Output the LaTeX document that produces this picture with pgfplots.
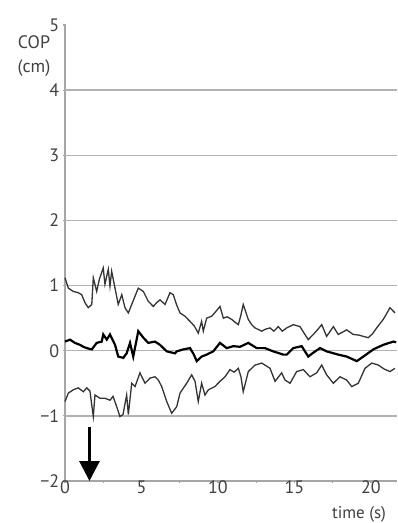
\documentclass[border=0pt]{standalone}
\usepackage{pgfplots}
\pgfplotsset{compat=1.18}
\usepackage{fontspec}
\setmainfont{PT Sans}
\usetikzlibrary{arrows.meta}
\begin{document}
\begin{tikzpicture}
\fontsize{18}{20}\selectfont
\begin{axis}[
  at={(0pt,0pt)}, anchor=south west,
  scale only axis, width=332pt, height=456pt,
  xmin=0, xmax=21.7, ymin=-2, ymax=5,
  axis x line=bottom, axis y line=left,
  axis line style={-, gray!70, line width=1.2pt},
  xtick={0,5,10,15,20}, minor xtick={2.5,7.5,12.5,17.5},
  ytick={-2,-1,0,1,2,3,4,5},
  yticklabels={−2,−1,0,1,2,3,4,5},
  xticklabels={0,5,10,15,20},
  tick align=center, major tick length=3pt, minor tick length=3pt,
  tick style={gray!70, line width=1.2pt},
  tick label style={font=\fontsize{18}{20}\selectfont, text=black!75},
  yticklabel style={xshift=2pt},
  xticklabel style={yshift=3pt, inner sep=1pt},
  extra y ticks={-1,0,1,2,3,4},
  extra y tick labels={},
  extra y tick style={grid=major, major tick length=0pt},
  major grid style={gray!60, line width=1.5pt},
  clip=false,
]
% upper trace
\addplot[black!80, line width=1.3pt] coordinates {
(0.00,1.12)(0.22,0.96)(0.54,0.91)(0.87,0.89)(1.09,0.86)(1.30,0.74)(1.52,0.66)(1.75,0.71)(1.85,1.12)(2.07,0.91)(2.25,1.10)(2.50,1.27)(2.61,1.02)(2.83,1.25)(2.94,0.99)(3.05,1.22)(3.27,0.96)(3.48,0.71)(3.71,0.86)(3.92,0.66)(4.14,0.58)(4.36,0.71)(4.55,0.82)(4.79,0.96)(5.12,0.91)(5.44,0.76)(5.77,0.68)(6.00,0.74)(6.21,0.78)(6.54,0.71)(6.86,0.89)(7.08,0.86)(7.30,0.70)(7.52,0.58)(7.84,0.53)(8.17,0.45)(8.45,0.38)(8.71,0.27)(8.93,0.45)(9.04,0.30)(9.26,0.50)(9.59,0.53)(9.85,0.60)(10.13,0.68)(10.35,0.50)(10.60,0.52)(10.90,0.48)(11.10,0.44)(11.33,0.40)(11.50,0.55)(11.65,0.71)(11.98,0.48)(12.20,0.40)(12.42,0.35)(12.86,0.30)(13.10,0.33)(13.40,0.35)(13.65,0.30)(13.94,0.37)(14.20,0.30)(14.49,0.35)(14.92,0.40)(15.36,0.37)(15.60,0.28)(15.90,0.17)(16.23,0.25)(16.50,0.32)(16.78,0.40)(17.10,0.22)(17.54,0.37)(17.86,0.25)(18.10,0.28)(18.41,0.32)(18.84,0.25)(19.20,0.24)(19.50,0.22)(19.82,0.20)(20.10,0.26)(20.37,0.35)(20.80,0.48)(21.00,0.56)(21.24,0.66)(21.57,0.58)
};
% middle trace
\addplot[black, line width=2.2pt] coordinates {
(0.00,0.14)(0.33,0.17)(0.65,0.12)(0.98,0.09)(1.20,0.06)(1.42,0.04)(1.75,0.02)(2.07,0.12)(2.40,0.14)(2.50,0.25)(2.73,0.17)(2.94,0.25)(3.27,0.09)(3.48,-0.09)(3.81,-0.11)(4.03,-0.04)(4.25,0.12)(4.46,-0.09)(4.79,0.30)(5.12,0.20)(5.44,0.12)(5.88,0.14)(6.21,0.09)(6.65,-0.01)(7.19,-0.04)(7.30,-0.01)(7.73,0.02)(8.17,0.04)(8.40,-0.05)(8.61,-0.16)(8.93,-0.09)(9.26,-0.06)(9.69,-0.01)(10.13,0.12)(10.57,0.04)(11.00,0.07)(11.44,0.06)(11.98,0.12)(12.53,0.04)(13.07,0.04)(13.61,-0.01)(14.27,-0.06)(14.49,-0.06)(14.92,0.04)(15.47,0.07)(15.90,-0.09)(16.23,-0.03)(16.67,0.04)(17.10,-0.01)(17.86,-0.06)(18.41,-0.09)(18.70,-0.12)(19.07,-0.16)(19.50,-0.09)(20.15,0.02)(20.80,0.09)(21.46,0.14)(21.65,0.13)
};
% lower trace
\addplot[black!80, line width=1.3pt] coordinates {
(0.00,-0.78)(0.22,-0.65)(0.54,-0.60)(0.87,-0.57)(1.20,-0.63)(1.42,-0.57)(1.63,-0.62)(1.85,-1.01)(1.96,-0.68)(2.29,-0.73)(2.61,-0.73)(2.94,-0.76)(3.14,-0.70)(3.38,-0.86)(3.59,-1.01)(3.79,-0.98)(4.03,-0.68)(4.14,-0.98)(4.36,-0.50)(4.58,-0.55)(4.90,-0.34)(5.23,-0.50)(5.56,-0.42)(5.88,-0.40)(6.10,-0.45)(6.32,-0.55)(6.65,-0.78)(6.97,-0.96)(7.30,-0.86)(7.52,-0.65)(7.95,-0.50)(8.28,-0.37)(8.50,-0.47)(8.71,-0.78)(8.93,-0.50)(9.15,-0.68)(9.37,-0.60)(9.80,-0.55)(10.13,-0.47)(10.46,-0.40)(10.78,-0.29)(11.05,-0.33)(11.33,-0.27)(11.50,-0.40)(11.65,-0.63)(11.98,-0.32)(12.42,-0.22)(12.86,-0.19)(13.40,-0.27)(13.73,-0.47)(14.16,-0.34)(14.38,-0.45)(14.71,-0.50)(15.14,-0.32)(15.58,-0.29)(16.01,-0.40)(16.45,-0.34)(16.78,-0.22)(17.10,-0.37)(17.54,-0.50)(17.97,-0.40)(18.41,-0.45)(18.74,-0.55)(19.17,-0.50)(19.61,-0.27)(20.05,-0.19)(20.48,-0.22)(20.85,-0.28)(21.24,-0.32)(21.57,-0.27)
};
\draw[black, line width=3pt, -{Triangle[length=20pt, width=20pt]}] (axis cs:1.6,-1.17) -- (axis cs:1.6,-2);
\end{axis}
\node[anchor=center, text=black!75] at (-31pt,439pt) {COP};
\node[anchor=center, text=black!75] at (-31pt,413pt) {(cm)};
\node[anchor=base, inner sep=0pt, text=black!75, font=\fontsize{17}{19}\selectfont] at (294pt,-37pt) {time (s)};
\pgfresetboundingbox
\useasboundingbox (-65pt,-42pt) rectangle (332pt,481pt);
\end{tikzpicture}
\end{document}
